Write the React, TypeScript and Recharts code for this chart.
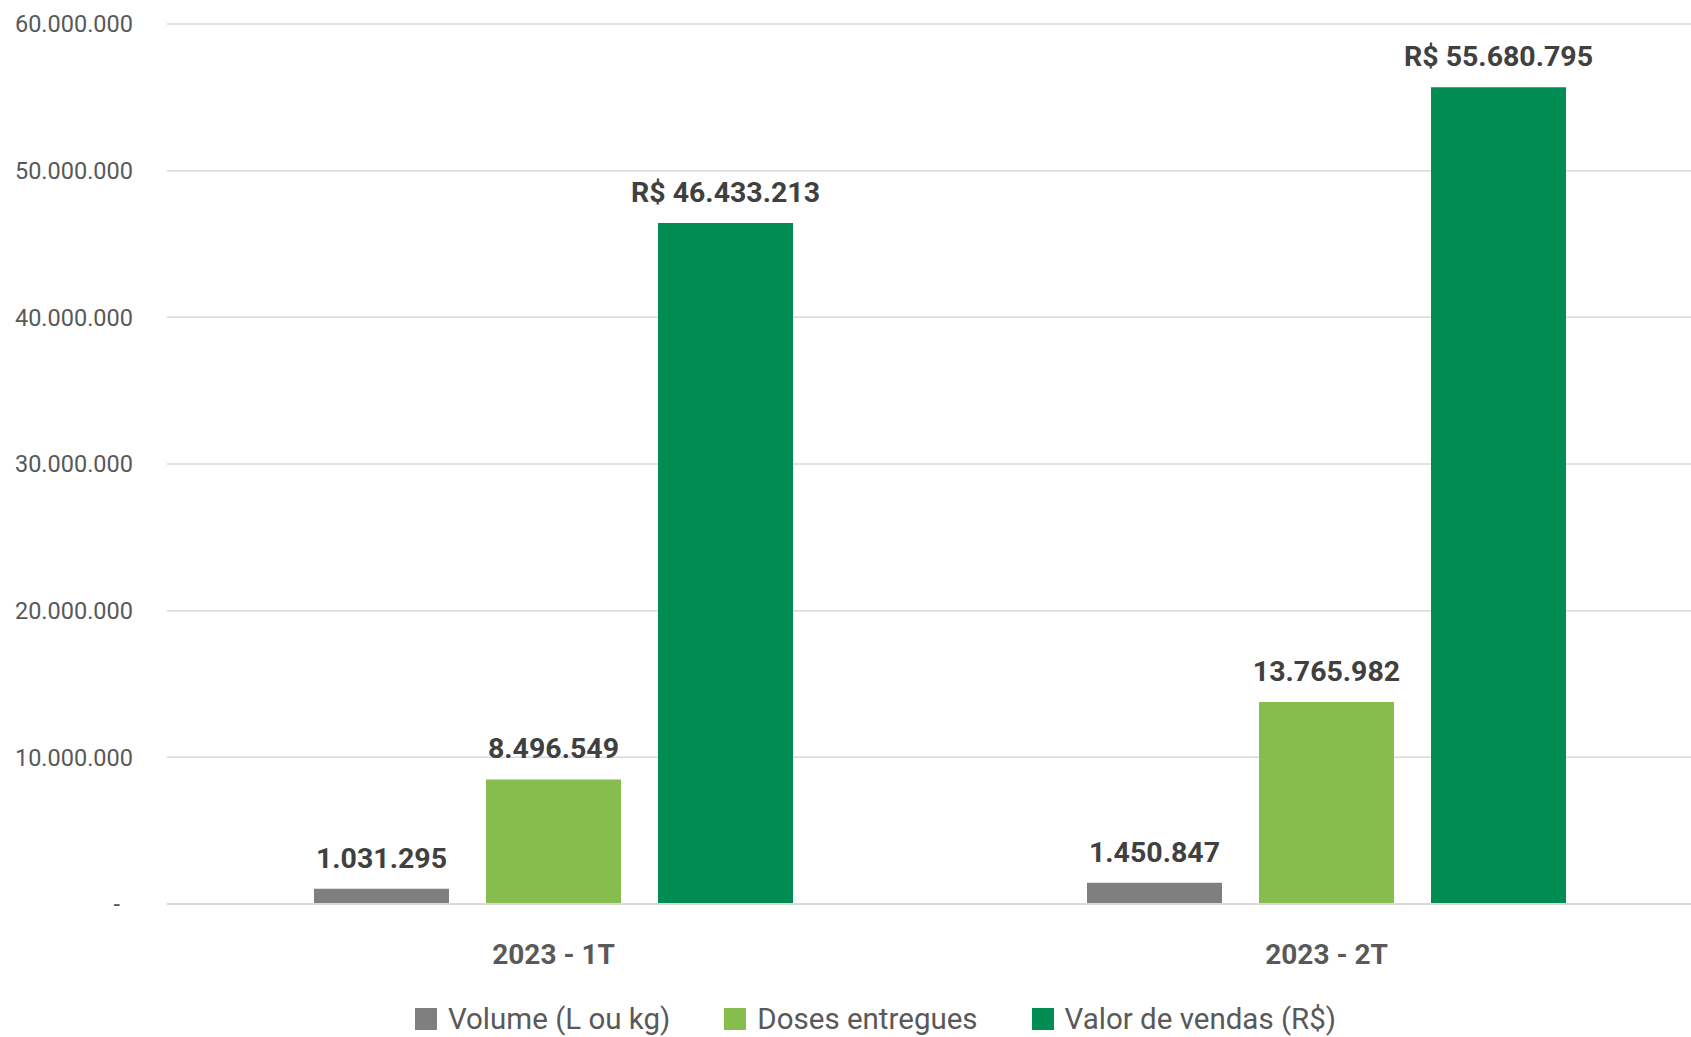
import React from "react";
import {
  BarChart,
  Bar,
  XAxis,
  YAxis,
  CartesianGrid,
  Legend,
  LabelList,
} from "recharts";

const categories = ["2023 - 1T", "2023 - 2T"];
const volume = [1031295, 1450847];
const doses = [8496549, 13765982];
const vendas = [46433213, 55680795];
const yTicks = [0, 10000000, 20000000, 30000000, 40000000, 50000000, 60000000];

const SERIES = [
  { key: "volume", name: "Volume (L ou kg)", color: "#7f7f7f" },
  { key: "doses", name: "Doses entregues", color: "#86bd4c" },
  { key: "vendas", name: "Valor de vendas (R$)", color: "#008c53" },
];

const data = categories.map((cat, i) => ({
  cat,
  volume: volume[i],
  doses: doses[i],
  vendas: vendas[i],
}));

const FONT = "Roboto, 'Noto Sans', sans-serif";

const fmt = (v: number) =>
  String(Math.round(v)).replace(/\B(?=(\d{3})+(?!\d))/g, ".");

function YTick(props: any) {
  const { x, y, payload } = props;
  const zero = payload.value === 0;
  // labels end ~32px left of the plot
  return (
    <text
      x={zero ? x - 45 : x - 32}
      y={y}
      dy="0.35em"
      textAnchor="end"
      fill="#595959"
      fontSize={23.5}
      fontFamily={FONT}
    >
      {zero ? "-" : fmt(payload.value)}
    </text>
  );
}

function LegendContent() {
  return (
    <div
      style={{
        display: "flex",
        justifyContent: "center",
        alignItems: "center",
        height: 73,
        paddingTop: 37,
        paddingLeft: 38,
        boxSizing: "border-box",
        fontFamily: FONT,
        fontSize: 29.5,
        color: "#595959",
        gap: 54,
      }}
    >
      {SERIES.map((s) => (
        <div key={s.key} style={{ display: "flex", alignItems: "center", gap: 11 }}>
          <div style={{ width: 22, height: 22, backgroundColor: s.color }} />
          <span>{s.name}</span>
        </div>
      ))}
    </div>
  );
}

export default function App() {
  return (
    <div
      style={{
        position: "absolute",
        left: 0,
        top: 0,
        width: 1691,
        height: 1037,
        overflow: "hidden",
        background: "#fff",
      }}
    >
      <BarChart
        width={1713}
        height={1037}
        data={data}
        margin={{ top: 24, right: 0, left: 0, bottom: 0 }}
        barGap={37}
      >
        <CartesianGrid vertical={false} stroke="#d9d9d9" strokeWidth={1.5} />
        <XAxis
          dataKey="cat"
          height={60}
          tickLine={false}
          tickSize={0}
          tickMargin={40}
          axisLine={{ stroke: "#d9d9d9", strokeWidth: 2 }}
          tick={{ fill: "#595959", fontSize: 28, fontWeight: 700, fontFamily: FONT }}
        />
        <YAxis
          width={167}
          domain={[0, 60000000]}
          ticks={yTicks}
          axisLine={false}
          tickLine={false}
          tickSize={0}
          tick={<YTick />}
        />
        <Legend verticalAlign="bottom" height={73} content={<LegendContent />} />
        {SERIES.map((s) => (
          <Bar
            key={s.key}
            dataKey={s.key}
            name={s.name}
            fill={s.color}
            barSize={135}
            isAnimationActive={false}
          >
            <LabelList
              dataKey={s.key}
              position="top"
              offset={21}
              formatter={(v: any) => (s.key === "vendas" ? `R$ ${fmt(v)}` : fmt(v))}
              style={{
                fill: "#404040",
                fontSize: 28.5,
                fontWeight: 700,
                fontFamily: FONT,
              }}
            />
          </Bar>
        ))}
      </BarChart>
    </div>
  );
}
